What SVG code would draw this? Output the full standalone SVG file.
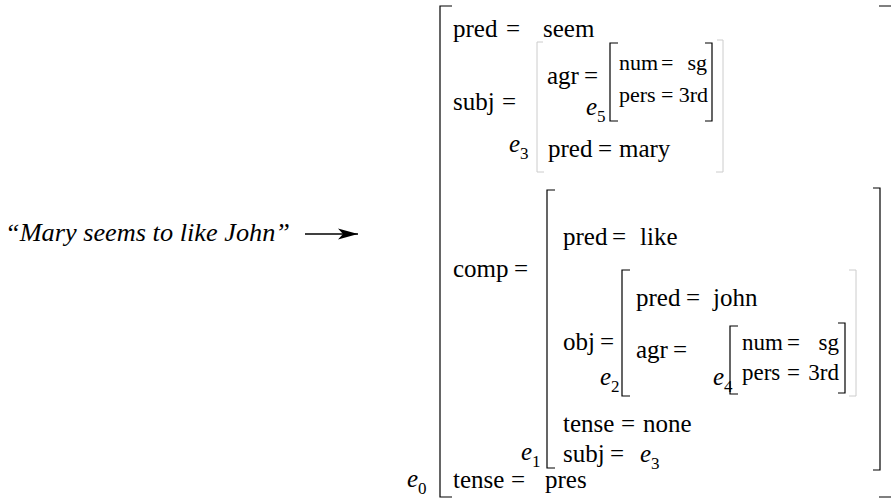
<svg xmlns="http://www.w3.org/2000/svg" width="892" height="500" viewBox="0 0 892 500" font-family="'Liberation Serif', 'Times New Roman', serif">
<defs>
<style>
text { font-family: "Liberation Serif", "Times New Roman", serif; font-size: 25px; fill: #000; }
.it { font-style: italic; }
.sub { font-size: 17px; }
.sm { font-size: 23px; }
.xs { font-size: 22px; }
.q { font-style: italic; font-size: 26px; }
.br { fill: none; stroke: #000; stroke-width: 1.2; }
.fb { fill: none; stroke: #ccc; stroke-width: 1; }
</style>
<marker id="ah" markerWidth="22" markerHeight="12" refX="20" refY="6" orient="auto" markerUnits="userSpaceOnUse">
<path d="M0,0.5 L20,6 L0,11.5 L5,6 Z" fill="#000"/>
</marker>
</defs>
<rect width="892" height="500" fill="#fff"/>

<g id="sentence">
<text class="q" x="5" y="241" textLength="285" lengthAdjust="spacingAndGlyphs">“Mary seems to like John”</text>
</g>

<g id="connectors">
<line x1="305" y1="234" x2="358" y2="234" stroke="#000" stroke-width="1.3" marker-end="url(#ah)"/>
</g>

<g id="e0">
<path class="br" d="M452,6 H440 V497 H452"/>
<path class="br" d="M879,6 H891 M879,497 H891"/>
<text class="it" x="407" y="487">e</text><text class="sub" x="418" y="494">0</text>
<text x="453" y="37">pred</text><text x="506" y="37">=</text><text x="543" y="37">seem</text>
<text x="453" y="110">subj</text><text x="502" y="110">=</text>
<text x="453" y="277">comp</text><text x="514" y="277">=</text>
<text x="453" y="488">tense</text><text x="511" y="488">=</text><text x="545" y="488">pres</text>
</g>

<g id="e3">
<path class="fb" d="M543,42 H537 V172 H544"/>
<path class="fb" d="M717,40 H723 V172 H716"/>
<text class="it" x="509" y="152">e</text><text class="sub" x="520" y="159">3</text>
<text x="547" y="84">agr</text><text x="584" y="84">=</text>
<text x="548" y="157">pred</text><text x="598" y="157">=</text><text x="619" y="157">mary</text>
</g>

<g id="e5">
<path class="br" d="M618,43 H610 V121 H618"/>
<path class="br" d="M705,43 H712 V121 H705"/>
<text class="it" x="586" y="115">e</text><text class="sub" x="597" y="122">5</text>
<text class="xs" x="619" y="70">num</text><text class="xs" x="661" y="70">=</text><text class="xs" x="707" y="70" text-anchor="end">sg</text>
<text class="xs" x="619" y="102">pers</text><text class="xs" x="661" y="102">=</text><text class="xs" x="708" y="102" text-anchor="end">3rd</text>
</g>

<g id="e1">
<path class="br" d="M555,190 H547 V468 H555"/>
<path class="br" d="M873,188 H880 V470 H873"/>
<text class="it" x="521" y="460">e</text><text class="sub" x="532" y="467">1</text>
<text x="563" y="245">pred</text><text x="612" y="245">=</text><text x="640" y="245">like</text>
<text x="563" y="350">obj</text><text x="600" y="350">=</text>
<text x="563" y="432">tense</text><text x="621" y="432">=</text><text x="643" y="432">none</text>
<text x="563" y="462">subj</text><text x="610" y="462">=</text><text class="it" x="640" y="462">e</text><text class="sub" x="651" y="469">3</text>
</g>

<g id="e2">
<path class="br" d="M630,270 H622 V396 H630"/>
<path class="fb" d="M849,270 H856 V396 H849"/>
<text class="it" x="600" y="385">e</text><text class="sub" x="611" y="392">2</text>
<text x="636" y="306">pred</text><text x="686" y="306">=</text><text x="713" y="306">john</text>
<text x="636" y="358">agr</text><text x="673" y="358">=</text>
</g>

<g id="e4">
<path class="br" d="M738,326 H730 V394 H738"/>
<path class="br" d="M838,323 H845 V393 H838"/>
<text class="it" x="713" y="385">e</text><text class="sub" x="724" y="392">4</text>
<text class="sm" x="742" y="350">num</text><text class="sm" x="787" y="350">=</text><text class="sm" x="839" y="350" text-anchor="end">sg</text>
<text class="sm" x="742" y="380">pers</text><text class="sm" x="787" y="380">=</text><text class="sm" x="839" y="380" text-anchor="end">3rd</text>
</g>
</svg>
